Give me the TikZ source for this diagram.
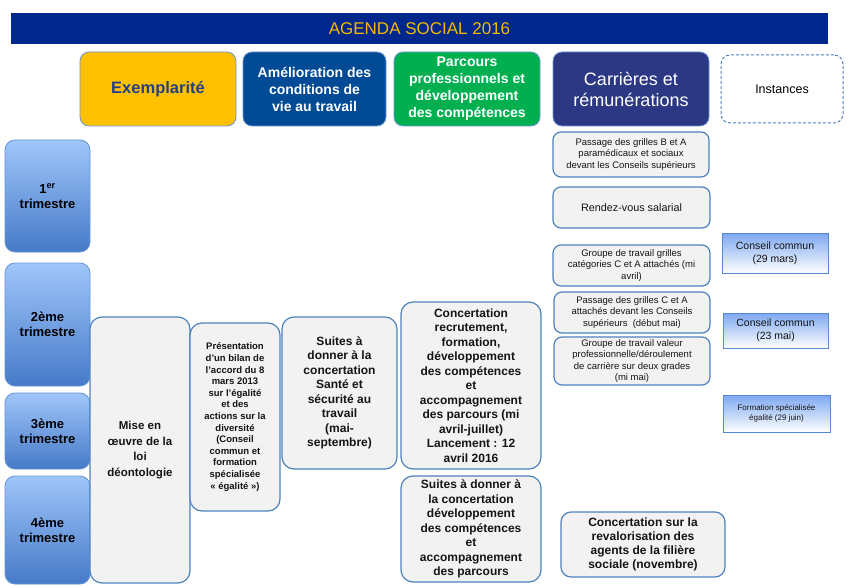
\documentclass[tikz,border=0pt]{standalone}
\usepackage{fontspec}
\setmainfont{Liberation Sans}
\definecolor{titlebg}{RGB}{0,40,140}
\definecolor{titlefg}{RGB}{245,185,0}
\definecolor{exfill}{RGB}{255,192,0}
\definecolor{exfg}{RGB}{36,64,130}
\definecolor{amfill}{RGB}{0,74,150}
\definecolor{pafill}{RGB}{0,176,80}
\definecolor{cafill}{RGB}{45,56,132}
\definecolor{hdrbord}{RGB}{110,150,210}
\definecolor{bodybord}{RGB}{79,129,189}
\definecolor{bodyfill}{RGB}{242,242,242}
\definecolor{tritop}{RGB}{160,198,250}
\definecolor{tribot}{RGB}{70,122,200}
\definecolor{tribord}{RGB}{100,150,215}
\definecolor{cctop}{RGB}{125,168,240}
\definecolor{ccbord}{RGB}{85,135,210}
\definecolor{bodytext}{RGB}{20,20,20}
\tikzset{
  base/.style={inner sep=0pt, align=center, anchor=center},
  titlebar/.style={base, fill=titlebg, text=titlefg, font=\fontsize{17}{20}\selectfont},
  hdr/.style={base, rounded corners=9pt, draw=hdrbord, line width=0.8pt, text=white, font=\bfseries\fontsize{14}{17}\selectfont},
  instbox/.style={base, rounded corners=9pt, draw=bodybord, line width=1pt, dash pattern=on 3pt off 2pt, fill=white, font=\fontsize{12.5}{15}\selectfont},
  tri/.style={base, rounded corners=10pt, draw=tribord, line width=0.8pt, top color=tritop, bottom color=tribot, text=black, font=\bfseries\fontsize{13}{15}\selectfont},
  bodybox/.style={base, rounded corners=12pt, draw=bodybord, line width=1.2pt, fill=bodyfill, text=bodytext, font=\bfseries\fontsize{12}{14.5}\selectfont},
  smallbox/.style={base, rounded corners=8pt, draw=bodybord, line width=1.2pt, fill=bodyfill, text=bodytext, font=\fontsize{9.5}{11.5}\selectfont},
  ccbox/.style={base, draw=ccbord, line width=1pt, top color=cctop, bottom color=white, text=bodytext, font=\fontsize{10.5}{13}\selectfont},
}
\begin{document}
\begin{tikzpicture}[x=1pt, y=-1pt]
\useasboundingbox[fill=white] (0,0) rectangle (850,588);

% title
\node[titlebar, minimum width=817pt, minimum height=31pt] (title) at (419.5,28.5) {AGENDA SOCIAL 2016};

% headers
\node[hdr, fill=exfill, text=exfg, font=\bfseries\fontsize{16.5}{19}\selectfont, minimum width=156pt, minimum height=74pt] (exemp) at (158,89) {Exemplarité};
\node[hdr, fill=amfill, minimum width=143pt, minimum height=74pt] (amel) at (314.5,89) {Amélioration des\\conditions de\\vie au travail};
\node[hdr, fill=pafill, minimum width=146pt, minimum height=74pt] (parc) at (467,89) {Parcours\\professionnels et\\développement\\des compétences};
\node[hdr, fill=cafill, font=\fontsize{18}{21}\selectfont, minimum width=156pt, minimum height=74pt] (carr) at (631,89) {Carrières et\\rémunérations};
\node[instbox, minimum width=122pt, minimum height=68pt] (inst) at (782,89) {Instances};

% trimestres
\node[tri, minimum width=85pt, minimum height=112pt] (t1) at (47.5,196) {1\textsuperscript{er}\\trimestre};
\node[tri, minimum width=85pt, minimum height=123pt] (t2) at (47.5,324.5) {2ème\\trimestre};
\node[tri, minimum width=85pt, minimum height=76pt] (t3) at (47.5,431) {3ème\\trimestre};
\node[tri, minimum width=85pt, minimum height=108pt] (t4) at (47.5,530) {4ème\\trimestre};

% body
\node[bodybox, font=\bfseries\fontsize{11.5}{15.8}\selectfont, minimum width=100pt, minimum height=266pt] (mise) at (140,450) {Mise en\\œuvre de la\\loi\\déontologie};
\node[bodybox, font=\bfseries\fontsize{9.5}{11.6}\selectfont, minimum width=90pt, minimum height=188pt] (pres) at (235,417) {Présentation\\d’un bilan de\\l’accord du 8\\mars 2013\\sur l’égalité\\et des\\actions sur la\\diversité\\(Conseil\\commun et\\formation\\spécialisée\\« égalité »)};
\node[bodybox, minimum width=115pt, minimum height=152pt] (sante) at (339.5,393) {Suites à\\donner à la\\concertation\\Santé et\\sécurité au\\travail\\(mai-\\septembre)};
\node[bodybox, minimum width=140pt, minimum height=167pt] (concert) at (471,385.5) {Concertation\\recrutement,\\formation,\\développement\\des compétences\\et\\accompagnement\\des parcours (mi\\avril-juillet)\\Lancement : 12\\avril 2016};
\node[bodybox, minimum width=140pt, minimum height=106pt] (suitesdev) at (471,529) {Suites à donner à\\la concertation\\développement\\des compétences\\et\\accompagnement\\des parcours};

% carrieres column
\node[smallbox, minimum width=156pt, minimum height=45pt] (pB) at (631,154.5) {Passage des grilles B et A\\paramédicaux et sociaux\\devant les Conseils supérieurs};
\node[smallbox, font=\fontsize{10.8}{13}\selectfont, minimum width=157pt, minimum height=41pt] (rdv) at (631.5,207.5) {Rendez-vous salarial};
\node[smallbox, minimum width=157pt, minimum height=41pt] (gt) at (631.5,265.5) {Groupe de travail grilles\\catégories C et A attachés (mi\\avril)};
\node[smallbox, minimum width=156pt, minimum height=41pt] (pC) at (632,312.5) {Passage des grilles C et A\\attachés devant les Conseils\\supérieurs~~(début mai)};
\node[smallbox, font=\fontsize{9.5}{11.3}\selectfont, minimum width=156pt, minimum height=48pt] (gv) at (632,361) {Groupe de travail valeur\\professionnelle/déroulement\\de carrière sur deux grades\\(mi mai)};
\node[bodybox, rounded corners=10pt, font=\bfseries\fontsize{12}{13.8}\selectfont, minimum width=164pt, minimum height=65pt] (reval) at (643,544.5) {Concertation sur la\\revalorisation des\\agents de la filière\\sociale (novembre)};

% instances
\node[ccbox, minimum width=106pt, minimum height=40pt] (cc1) at (775,253) {Conseil commun\\(29 mars)};
\node[ccbox, minimum width=105pt, minimum height=35pt] (cc2) at (775.5,330.5) {Conseil commun\\(23 mai)};
\node[ccbox, font=\fontsize{8}{10.3}\selectfont, minimum width=107pt, minimum height=37pt] (form) at (776.5,413.5) {Formation spécialisée\\égalité (29 juin)};
\end{tikzpicture}
\end{document}
